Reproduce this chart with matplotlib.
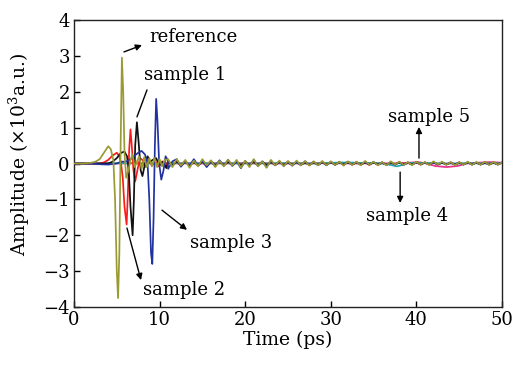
import numpy as np
import matplotlib
matplotlib.use("Agg")
import matplotlib.pyplot as plt

plt.rcParams['font.family'] = ['DejaVu Serif']
plt.rcParams['mathtext.fontset'] = 'dejavuserif'

# ---------------- data (time in ps, amplitude in 10^3 a.u.) ----------------
t_tail = np.arange(11.0, 50.01, 0.5)

# reference (olive)
ref_t = [0, 1, 2, 2.5, 3, 3.5, 4.0, 4.3, 4.6, 4.8, 5.0, 5.15, 5.3, 5.45, 5.6, 5.75, 5.9, 6.1, 6.35,
         6.6, 6.85, 7.1, 7.35, 7.6, 7.9, 8.2, 8.5, 8.8, 9.1, 9.4, 9.7, 10.0, 10.3, 10.6]
ref_v = [0, 0, 0.02, 0.05, 0.12, 0.3, 0.48, 0.4, 0.1, -1.0, -3.0, -3.75, -2.5, 0.5, 2.95, 2.0, 0.3, -0.4, -0.2,
         0.1, 0.25, -0.1, 0.05, 0.2, -0.15, 0.18, -0.1, 0.15, -0.08, 0.15, -0.1, 0.12, -0.08, 0.1]
ref_tail = [0.12, -0.1, 0.12, -0.06, 0.1, -0.12, 0.08, -0.08, 0.12, -0.05, 0.09, -0.1, 0.07, -0.08,
            0.11, -0.06, 0.1, -0.12, 0.08, -0.1, 0.12, -0.08, 0.06, -0.12, 0.1, -0.05, 0.08, -0.08,
            0.07, -0.06, 0.08, -0.05, 0.07, -0.06, 0.06, -0.05, 0.07, -0.05, 0.06, -0.04, 0.05, -0.06,
            0.06, -0.04, 0.05, -0.05, 0.07, -0.03, 0.05, -0.05, 0.04, -0.05, 0.06, -0.03, 0.05, -0.04,
            0.04, -0.05, 0.05, -0.03, 0.04, -0.04, 0.06, -0.03, 0.05, -0.04, 0.04, -0.05, 0.04, -0.03,
            0.05, -0.04, 0.04, -0.03, 0.05, -0.04, 0.04, -0.03, 0.03]

# sample 1 (black)
s1_t = [0, 4, 4.5, 5, 5.5, 5.9, 6.2, 6.4, 6.6, 6.85, 7.0, 7.15, 7.35, 7.55, 7.8, 8.0, 8.3, 8.6, 8.9,
        9.2, 9.6, 10.0, 10.4, 10.8]
s1_v = [0, 0, 0.05, 0.15, 0.3, 0.33, 0.2, -0.2, -1.2, -2.0, -1.0, 0.5, 1.15, 0.6, -0.2, -0.35, 0.0, 0.2, 0.05,
        0.1, 0.15, -0.05, 0.05, -0.13]
s1_tail = [0.06, -0.05, 0.06, -0.04, 0.05, -0.06, 0.04, -0.05, 0.06, -0.04, 0.05, -0.05, 0.04, -0.04,
           0.05, -0.04, 0.04, -0.05, 0.04, -0.04, 0.05, -0.04, 0.04, -0.05, 0.04, -0.03, 0.04, -0.04,
           0.03, -0.04, 0.04, -0.03, 0.03, -0.04, 0.03, -0.03, 0.04, -0.03, 0.03, -0.03, 0.03, -0.03,
           0.03, -0.03, 0.03, -0.03, 0.03, -0.02, 0.03, -0.03, 0.02, -0.03, 0.03, -0.02, 0.03, -0.02,
           0.02, -0.03, 0.03, -0.02, 0.02, -0.02, 0.03, -0.02, 0.02, -0.02, 0.02, -0.03, 0.02, -0.02,
           0.03, -0.02, 0.02, -0.02, 0.02, -0.02, 0.02, -0.02, 0.02]

# sample 2 (red)
s2_t = [0, 3, 3.5, 4, 4.5, 5.0, 5.3, 5.5, 5.7, 5.9, 6.15, 6.3, 6.45, 6.6, 6.75, 6.95, 7.15, 7.4, 7.7,
        8.0, 8.3, 8.7, 9.1, 9.5, 9.9, 10.3, 10.7]
s2_v = [0, 0, 0.03, 0.1, 0.22, 0.3, 0.2, 0.0, -0.4, -1.2, -1.7, -0.8, 0.4, 0.95, 0.5, -0.2, -0.5, -0.2, 0.15,
        0.1, -0.1, 0.12, -0.06, 0.08, -0.08, 0.06, -0.1]
s2_tail = [0.07, -0.06, 0.05, -0.07, 0.06, -0.05, 0.06, -0.06, 0.04, -0.07, 0.06, -0.04, 0.05, -0.06,
           0.04, -0.05, 0.06, -0.04, 0.05, -0.05, 0.04, -0.06, 0.05, -0.04, 0.04, -0.05, 0.04, -0.04,
           0.05, -0.03, 0.04, -0.04, 0.03, -0.04, 0.04, -0.03, 0.03, -0.04, 0.04, -0.03, 0.03, -0.03,
           0.04, -0.03, 0.03, -0.03, 0.03, -0.04, 0.03, -0.03, 0.03, -0.03, 0.03, -0.03, 0.04, -0.03,
           0.03, -0.03, 0.03, -0.03, 0.03, -0.03, 0.03, -0.03, 0.03, -0.03, 0.03, -0.03, 0.03, -0.03,
           0.03, -0.03, 0.03, -0.03, 0.03, -0.03, 0.03, -0.03, 0.03]

# sample 3 (blue)
s3_t = [0, 2, 3, 4, 5, 5.5, 6, 6.5, 7, 7.5, 7.9, 8.3, 8.6, 8.8, 9.0, 9.15, 9.3, 9.45, 9.6, 9.75, 9.95,
        10.2, 10.45, 10.7, 10.95]
s3_v = [0, 0, -0.02, -0.03, 0, 0.05, 0.05, 0.1, 0.2, 0.3, 0.35, 0.25, 0.0, -1.0, -2.5, -2.8, -1.5, 0.5, 1.8, 1.2, 0.0,
        -0.45, -0.2, 0.2, 0.1]
s3_tail = [-0.15, 0.06, 0.12, -0.09, 0.07, -0.06, 0.12, -0.05, 0.07, -0.1, 0.05, -0.07, 0.09, -0.06,
           0.1, -0.07, 0.06, -0.13, 0.07, -0.06, 0.1, -0.07, 0.06, -0.1, 0.08, -0.05, 0.06, -0.07,
           0.05, -0.06, 0.05, -0.05, 0.06, -0.04, 0.05, -0.05, 0.04, -0.05, 0.05, -0.04, 0.04, -0.04,
           0.05, -0.03, 0.04, -0.04, 0.04, -0.03, 0.04, -0.04, 0.03, -0.04, 0.04, -0.03, 0.03, -0.04,
           0.03, -0.03, 0.04, -0.03, 0.03, -0.03, 0.03, -0.03, 0.03, -0.03, 0.03, -0.03, 0.03, -0.03,
           0.03, -0.03, 0.03, -0.03, 0.03, -0.03, 0.03, -0.03, 0.03]

# sample 4 (cyan)
s4_t = [0, 5, 10, 15, 20, 25, 28, 30, 32, 34, 35, 36, 37, 37.7, 38.4, 39, 40, 42, 44, 46, 48, 50]
s4_v = [0, 0.01, 0.0, 0.01, 0.0, 0.01, 0.0, 0.02, 0.03, 0.01, 0.02, 0.0, -0.04, -0.08, -0.04, 0.01, 0.02, 0.01,
        0.0, 0.01, 0.0, 0.01]

# sample 5 (magenta)
s5_t = [0, 5, 10, 15, 20, 25, 30, 33, 35, 37, 39, 40.2, 41.2, 42.2, 43.5, 44.8, 45.8, 47, 48.5, 49.5, 50]
s5_v = [0, 0.0, 0.01, 0.0, 0.01, 0.0, 0.01, 0.0, 0.01, 0.0, 0.02, 0.04, 0.0, -0.07, -0.1, -0.07, 0.0, 0.02,
        0.04, 0.03, 0.02]

x_ticks = [0, 10, 20, 30, 40, 50]
y_ticks = [-4, -3, -2, -1, 0, 1, 2, 3, 4]

# ---------------- plot ----------------
fig = plt.figure(figsize=(5.13, 3.65), dpi=100)
ax = fig.add_axes([0.1442, 0.1589, 0.8344, 0.7863])

lw = 1.25
ax.plot(s5_t, s5_v, color='#e8318c', lw=lw, zorder=2)
ax.plot(s4_t, s4_v, color='#1aa8b0', lw=lw, zorder=2)
ax.plot(np.concatenate([s2_t, t_tail]), np.concatenate([s2_v, s2_tail]), color='#ff1a1a', lw=lw, zorder=3)
ax.plot(np.concatenate([s1_t, t_tail]), np.concatenate([s1_v, s1_tail]), color='#111111', lw=lw, zorder=3)
ax.plot(np.concatenate([s3_t, t_tail]), np.concatenate([s3_v, s3_tail]), color='#2233a0', lw=lw, zorder=4)
ax.plot(np.concatenate([ref_t, t_tail]), np.concatenate([ref_v, ref_tail]), color='#9a9a35', lw=lw, zorder=5)

ax.set_xlim(0, 50)
ax.set_ylim(-4, 4)
ax.set_xticks(x_ticks)
ax.set_yticks(y_ticks)
ax.set_yticklabels(['−4', '−3', '−2', '−1', '0', '1', '2', '3', '4'])
ax.tick_params(direction='in', length=4, width=1, labelsize=13, top=False, right=False, pad=3)
for s in ax.spines.values():
    s.set_linewidth(1.0)
    s.set_color('#222222')

ax.set_xlabel('Time (ps)', fontsize=13.5, labelpad=1)
ax.set_ylabel('Amplitude (×10$^{3}$a.u.)', fontsize=13.5, labelpad=3)
ax.yaxis.set_label_coords(-0.098, 0.53)

fs = 13
arrowprops = dict(arrowstyle='-|>', color='black', lw=1.0, mutation_scale=9, shrinkA=0, shrinkB=0)
ax.annotate('', xy=(7.94, 3.30), xytext=(5.84, 3.11), arrowprops=arrowprops)
ax.text(8.76, 3.52, 'reference', fontsize=fs, va='center', ha='left')

ax.annotate('', xy=(7.36, 1.30), xytext=(8.53, 2.05),
            arrowprops=dict(arrowstyle='-', color='black', lw=1.0, shrinkA=0, shrinkB=0))
ax.text(8.18, 2.47, 'sample 1', fontsize=fs, va='center', ha='left')

ax.annotate('', xy=(7.83, -3.25), xytext=(6.19, -1.80), arrowprops=arrowprops)
ax.text(8.06, -3.52, 'sample 2', fontsize=fs, va='center', ha='left')

ax.annotate('', xy=(13.2, -1.85), xytext=(10.28, -1.30), arrowprops=arrowprops)
ax.text(13.55, -2.21, 'sample 3', fontsize=fs, va='center', ha='left')

ax.annotate('', xy=(40.3, 1.02), xytext=(40.3, 0.15), arrowprops=arrowprops)
ax.text(36.7, 1.3, 'sample 5', fontsize=fs, va='center', ha='left')

ax.annotate('', xy=(38.1, -1.10), xytext=(38.1, -0.24), arrowprops=arrowprops)
ax.text(34.1, -1.46, 'sample 4', fontsize=fs, va='center', ha='left')

fig.savefig('out.png', dpi=100)
